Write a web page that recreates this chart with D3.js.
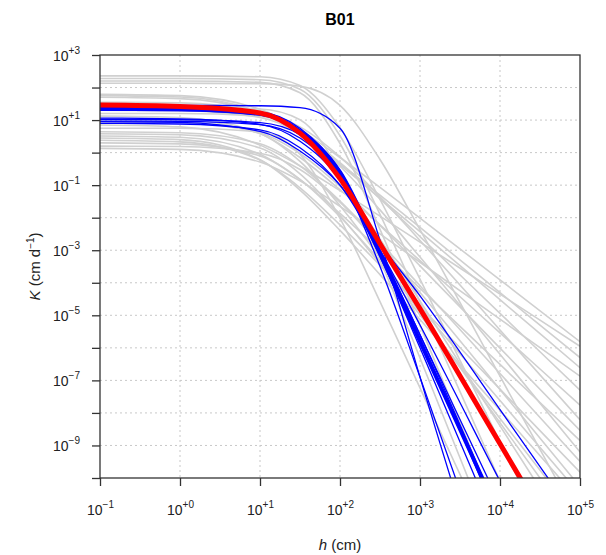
<!DOCTYPE html>
<html>
<head>
<meta charset="utf-8">
<script src="https://cdn.jsdelivr.net/npm/d3@7"></script>
<style>
  body { margin: 0; background: #fff; }
  svg { font-family: "Liberation Sans", Arial, sans-serif; }
</style>
</head>
<body>
<div id="chart"></div>
<script>
// log10(h) sampling points shared by all curves
const logH = [-1, 0, 1, 1.5, 2, 2.5, 3, 4, 5];

// log10(K) of the individual curves (grey)
const greyCurves = [
  [2.36, 2.36, 2.33, 2.06, 0.76, -1.44, -3.89, -8.89, -13.89],
  [2.28, 2.28, 2.24, 1.95, 0.52, -1.9, -4.6, -10.1, -15.6],
  [2.2, 2.2, 2.16, 1.84, 0.28, -2.36, -5.3, -11.3, -17.3],
  [2.13, 2.13, 2.12, 2.04, 1.45, -0.21, -2.37, -6.87, -11.37],
  [1.75, 1.71, 1.25, 0.55, -0.38, -1.4, -2.43, -4.52, -6.61],
  [1.79, 1.75, 1.33, 0.70, -0.15, -1.07, -2.01, -3.91, -5.81],
  [1.70, 1.66, 1.22, 0.55, -0.34, -1.31, -2.3, -4.3, -6.3],
  [1.55, 1.53, 1.22, 0.63, -0.31, -1.42, -2.58, -4.94, -7.3],
  [1.45, 1.44, 1.25, 0.79, -0.13, -1.36, -2.7, -5.45, -8.21],
  [1.38, 1.38, 1.34, 1.01, -0.59, -3.29, -6.31, -12.46, -18.6],
  [1.3, 1.29, 1.08, 0.58, -0.42, -1.76, -3.21, -6.2, -9.2],
  [1.2, 1.2, 1.12, 0.62, -0.8, -2.65, -4.56, -8.4, -12.24],
  [1.12, 1.08, 0.59, -0.15, -1.14, -2.22, -3.32, -5.54, -7.76],
  [1.05, 1.02, 0.58, -0.27, -1.63, -3.23, -4.91, -8.3, -11.7],
  [0.95, 0.93, 0.60, -0.03, -1.04, -2.24, -3.48, -6.01, -8.54],
  [0.85, 0.79, 0.23, -0.41, -1.17, -1.95, -2.75, -4.35, -5.95],
  [0.75, 0.75, 0.64, -0.05, -2.02, -4.58, -7.23, -12.55, -17.87],
  [0.64, 0.61, 0.27, -0.41, -1.49, -2.76, -4.09, -6.79, -9.49],
  [0.58, 0.55, 0.14, -0.65, -1.93, -3.42, -4.99, -8.17, -11.35],
  [0.51, 0.47, -0.05, -0.83, -1.87, -3.01, -4.17, -6.51, -8.85],
  [0.45, 0.40, -0.22, -1.15, -2.39, -3.75, -5.13, -7.92, -10.71],
  [0.38, 0.33, -0.23, -1.08, -2.22, -3.46, -4.72, -7.27, -9.82],
  [0.3, 0.27, -0.1, -0.82, -1.97, -3.33, -4.75, -7.62, -10.5],
  [0.2, 0.19, -0.02, -0.52, -1.52, -2.85, -4.3, -7.28, -10.27],
  [0.13, 0.10, -0.29, -0.87, -1.65, -2.5, -3.37, -5.12, -6.87]
];

// blue curves (thin)
const blueCurves = [
  [1.45, 1.45, 1.44, 1.38, 0.75, -2.7, -6.9, -14.9, -22.9],
  [1.02, 1.01, 0.92, 0.55, -0.7, -3.5, -6.9, -13.9, -20.9],
  [1.06, 1.04, 0.87, 0.35, -0.85, -3.2, -6.0, -11.8, -17.6],
  [0.97, 0.96, 0.86, 0.45, -0.7, -3.0, -5.6, -11.2, -16.8],
  [0.9, 0.88, 0.7, 0.15, -1.0, -3.0, -5.3, -10.1, -14.9],
  [0.95, 0.93, 0.65, 0.05, -1.0, -2.8, -4.4, -7.9, -11.4],
  [1.3, 1.29, 1.15, 0.6, -0.75, -3.0, -5.6, -10.8, -16.0],
  [1.37, 1.36, 1.25, 0.75, -0.55, -3.0, -5.7, -11.4, -17.1]
];

// thick blue and red curves
const blueMean = [1.34, 1.33, 1.2, 0.65, -0.6, -3.1, -5.8, -11.2, -16.6];
const redMean = [1.46, 1.42, 1.22, 0.6, -0.8, -2.8, -4.8, -8.95, -13.1];

const xTicks = [-1, 0, 1, 2, 3, 4, 5];
const yTicks = [-10, -9, -8, -7, -6, -5, -4, -3, -2, -1, 0, 1, 2, 3];
const yLabelled = [3, 1, -1, -3, -5, -7, -9];

const W = 606, H = 555;
const L = 100, R = 580, T = 55, B = 478;

const svg = d3.select("#chart").append("svg")
  .attr("width", W)
  .attr("height", H);

const x = d3.scaleLog().domain([1e-1, 1e5]).range([L, R]);
const y = d3.scaleLog().domain([1e-10, 1e3]).range([B, T]);

// grid
const grid = svg.append("g")
  .attr("stroke", "#c8c8c8")
  .attr("stroke-width", 1)
  .attr("stroke-dasharray", "2,3");
grid.selectAll("line.gx")
  .data(xTicks.slice(1, -1))
  .enter().append("line")
    .attr("x1", d => x(10 ** d)).attr("x2", d => x(10 ** d))
    .attr("y1", T).attr("y2", B);
grid.selectAll("line.gy")
  .data(yTicks.slice(1, -1))
  .enter().append("line")
    .attr("x1", L).attr("x2", R)
    .attr("y1", d => y(10 ** d)).attr("y2", d => y(10 ** d));

svg.append("clipPath").attr("id", "clip")
  .append("rect")
    .attr("x", L).attr("y", T)
    .attr("width", R - L).attr("height", B - T);

const line = d3.line()
  .x((d, i) => x(10 ** logH[i]))
  .y(d => y(10 ** d))
  .curve(d3.curveMonotoneX);

const curves = svg.append("g").attr("clip-path", "url(#clip)").attr("fill", "none");

curves.selectAll("path.grey")
  .data(greyCurves)
  .enter().append("path")
    .attr("d", line)
    .attr("stroke", "#d0d0d0")
    .attr("stroke-width", 1.6);

curves.selectAll("path.blue")
  .data(blueCurves)
  .enter().append("path")
    .attr("d", line)
    .attr("stroke", "#0000ff")
    .attr("stroke-width", 1.3);

curves.append("path")
  .attr("d", line(blueMean))
  .attr("stroke", "#0000ff")
  .attr("stroke-width", 4);

curves.append("path")
  .attr("d", line(redMean))
  .attr("stroke", "#ff0000")
  .attr("stroke-width", 5);

// box
svg.append("rect")
  .attr("x", L).attr("y", T)
  .attr("width", R - L).attr("height", B - T)
  .attr("fill", "none")
  .attr("stroke", "#333")
  .attr("stroke-width", 1.3);

function expo(e) {
  return e >= 0 ? "+" + e : "\u2212" + (-e);
}

// x axis
const xAxis = svg.append("g")
  .attr("transform", `translate(0,${B})`)
  .call(d3.axisBottom(x)
    .tickValues(xTicks.map(d => 10 ** d))
    .tickSize(8).tickSizeOuter(0)
    .tickFormat(""));
xAxis.select(".domain").remove();
xAxis.selectAll(".tick line").attr("stroke", "#333").attr("stroke-width", 1.3);
xAxis.selectAll(".tick").each(function(d) {
  const e = Math.round(Math.log10(d));
  const t = d3.select(this).append("text")
    .attr("y", 37)
    .attr("fill", "#222")
    .attr("font-size", 14)
    .attr("text-anchor", "middle");
  t.append("tspan").text("10");
  t.append("tspan").attr("font-size", 10).attr("dy", -7).text(expo(e));
});

// y axis
const yAxis = svg.append("g")
  .attr("transform", `translate(${L},0)`)
  .call(d3.axisLeft(y)
    .tickValues(yTicks.map(d => 10 ** d))
    .tickSize(8).tickSizeOuter(0)
    .tickFormat(""));
yAxis.select(".domain").remove();
yAxis.selectAll(".tick line").attr("stroke", "#333").attr("stroke-width", 1.3);
yAxis.selectAll(".tick").each(function(d) {
  const e = Math.round(Math.log10(d));
  if (!yLabelled.includes(e)) return;
  const t = d3.select(this).append("text")
    .attr("x", -20)
    .attr("y", 5)
    .attr("fill", "#222")
    .attr("font-size", 14)
    .attr("text-anchor", "end");
  t.append("tspan").text("10");
  t.append("tspan").attr("font-size", 10).attr("dy", -7).text(expo(e));
});

// title and axis labels
svg.append("text")
  .attr("x", (L + R) / 2).attr("y", 25)
  .attr("text-anchor", "middle")
  .attr("font-size", 16).attr("font-weight", "bold")
  .text("B01");

const xl = svg.append("text")
  .attr("x", (L + R) / 2).attr("y", 550)
  .attr("text-anchor", "middle")
  .attr("font-size", 15).attr("fill", "#222");
xl.append("tspan").attr("font-style", "italic").text("h");
xl.append("tspan").text(" (cm)");

const yl = svg.append("text")
  .attr("transform", `translate(40,${(T + B) / 2}) rotate(-90)`)
  .attr("text-anchor", "middle")
  .attr("font-size", 15).attr("fill", "#222");
yl.append("tspan").attr("font-style", "italic").text("K");
yl.append("tspan").text(" (cm d");
yl.append("tspan").attr("font-size", 10).attr("dy", -6).text("\u22121");
yl.append("tspan").attr("dy", 6).text(")");
</script>
</body>
</html>
